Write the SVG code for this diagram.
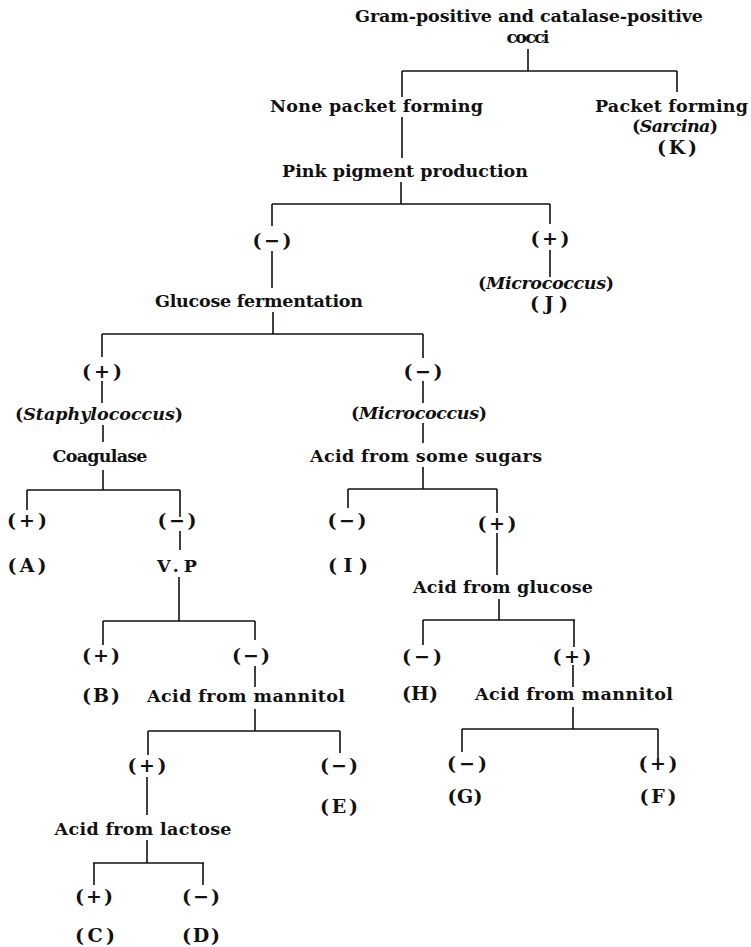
<svg xmlns="http://www.w3.org/2000/svg" width="751" height="947" viewBox="0 0 751 947">
<style>
text{font-family:"DejaVu Serif","Liberation Serif",serif;font-weight:bold;font-size:17.5px;fill:#111;text-anchor:middle}
text.s{font-size:19px}
.i{font-style:italic}
#connectors line{stroke:#111;stroke-width:1.6;fill:none}
</style>
<rect width="751" height="947" fill="#fff"/>
<g id="connectors">
<line x1="528" y1="49" x2="528" y2="71"/>
<line x1="402" y1="71" x2="677" y2="71"/>
<line x1="402" y1="71" x2="402" y2="97"/>
<line x1="677" y1="71" x2="677" y2="92"/>
<line x1="402" y1="117" x2="402" y2="158"/>
<line x1="401" y1="182" x2="401" y2="204"/>
<line x1="272" y1="204" x2="550" y2="204"/>
<line x1="272" y1="204" x2="272" y2="226"/>
<line x1="550" y1="204" x2="550" y2="224"/>
<line x1="272" y1="251" x2="272" y2="288"/>
<line x1="550" y1="250" x2="550" y2="277"/>
<line x1="273" y1="312" x2="273" y2="334"/>
<line x1="102" y1="334" x2="423" y2="334"/>
<line x1="102" y1="334" x2="102" y2="357"/>
<line x1="423" y1="334" x2="423" y2="358"/>
<line x1="102" y1="381" x2="102" y2="403"/>
<line x1="423" y1="381" x2="423" y2="403"/>
<line x1="103" y1="425" x2="103" y2="442"/>
<line x1="423" y1="423" x2="423" y2="443"/>
<line x1="103" y1="470" x2="103" y2="490"/>
<line x1="423" y1="467" x2="423" y2="489"/>
<line x1="27" y1="490" x2="180" y2="490"/>
<line x1="348" y1="489" x2="497" y2="489"/>
<line x1="27" y1="490" x2="27" y2="510"/>
<line x1="180" y1="490" x2="180" y2="517"/>
<line x1="348" y1="489" x2="348" y2="508"/>
<line x1="497" y1="489" x2="497" y2="513"/>
<line x1="180" y1="531" x2="180" y2="550"/>
<line x1="497" y1="533" x2="497" y2="575"/>
<line x1="179" y1="577" x2="179" y2="621"/>
<line x1="103" y1="621" x2="255" y2="621"/>
<line x1="103" y1="621" x2="103" y2="645"/>
<line x1="255" y1="621" x2="255" y2="640"/>
<line x1="255" y1="666" x2="255" y2="687"/>
<line x1="255" y1="709" x2="255" y2="731"/>
<line x1="148" y1="731" x2="340" y2="731"/>
<line x1="148" y1="731" x2="148" y2="755"/>
<line x1="340" y1="731" x2="340" y2="753"/>
<line x1="147" y1="777" x2="147" y2="815"/>
<line x1="147" y1="840" x2="147" y2="863"/>
<line x1="93" y1="863" x2="204" y2="863"/>
<line x1="94" y1="863" x2="94" y2="885"/>
<line x1="203" y1="863" x2="203" y2="885"/>
<line x1="499" y1="599" x2="499" y2="620"/>
<line x1="423" y1="620" x2="575" y2="620"/>
<line x1="423" y1="620" x2="423" y2="645"/>
<line x1="574" y1="620" x2="574" y2="647"/>
<line x1="573" y1="665" x2="573" y2="687"/>
<line x1="573" y1="707" x2="573" y2="729"/>
<line x1="462" y1="729" x2="658" y2="729"/>
<line x1="462" y1="729" x2="462" y2="752"/>
<line x1="658" y1="729" x2="658" y2="758"/>
</g>
<g id="n-root"><text x="529" y="22" textLength="348">Gram-positive and catalase-positive</text><text x="528" y="43" textLength="43">cocci</text></g>
<g id="n-none-packet"><text x="376.5" y="112" textLength="213">None packet forming</text></g>
<g id="n-packet"><text x="671.5" y="112" textLength="153">Packet forming</text><text x="675" y="132" textLength="86">(<tspan class="i">Sarcina</tspan>)</text><text class="s" x="677" y="154" textLength="40">(K)</text></g>
<g id="n-pink"><text x="405" y="177" textLength="246">Pink pigment production</text></g>
<g id="n-pink-neg"><text class="s" x="272" y="247" textLength="39">(−)</text></g>
<g id="n-pink-pos"><text class="s" x="550" y="245" textLength="39">(+)</text><text x="546" y="289" textLength="136">(<tspan class="i">Micrococcus</tspan>)</text><text class="s" x="549" y="310" textLength="38">(J)</text></g>
<g id="n-glucose-ferm"><text x="259" y="307" textLength="208">Glucose fermentation</text></g>
<g id="n-gf-pos"><text class="s" x="102" y="378" textLength="40">(+)</text><text x="99" y="420" textLength="168">(<tspan class="i">Staphylococcus</tspan>)</text></g>
<g id="n-gf-neg"><text class="s" x="423" y="378" textLength="39">(−)</text><text x="419" y="419" textLength="136">(<tspan class="i">Micrococcus</tspan>)</text></g>
<g id="n-coagulase"><text x="100" y="462" textLength="95">Coagulase</text></g>
<g id="n-some-sugars"><text x="426" y="462" textLength="232">Acid from some sugars</text></g>
<g id="n-coag-pos"><text class="s" x="27" y="527" textLength="40">(+)</text><text class="s" x="27" y="572" textLength="39">(A)</text></g>
<g id="n-coag-neg"><text class="s" x="177" y="527" textLength="39">(−)</text></g>
<g id="n-vp"><text x="177" y="572" textLength="40">V.P</text></g>
<g id="n-sugars-neg"><text class="s" x="347" y="527" textLength="39">(−)</text><text class="s" x="348" y="572" textLength="40">(I)</text></g>
<g id="n-sugars-pos"><text class="s" x="497" y="530" textLength="39">(+)</text></g>
<g id="n-acid-glucose"><text x="503" y="593" textLength="180">Acid from glucose</text></g>
<g id="n-vp-pos"><text class="s" x="101" y="662" textLength="38">(+)</text><text class="s" x="101" y="702" textLength="38">(B)</text></g>
<g id="n-vp-neg"><text class="s" x="251" y="662" textLength="38">(−)</text></g>
<g id="n-mannitol-1"><text x="246" y="702" textLength="198">Acid from mannitol</text></g>
<g id="n-glu-neg"><text class="s" x="422" y="663" textLength="40">(−)</text><text class="s" x="420" y="700" textLength="36">(H)</text></g>
<g id="n-glu-pos"><text class="s" x="572" y="663" textLength="39">(+)</text></g>
<g id="n-mannitol-2"><text x="574" y="700" textLength="198">Acid from mannitol</text></g>
<g id="n-man1-pos"><text class="s" x="147" y="772" textLength="39">(+)</text></g>
<g id="n-man1-neg"><text class="s" x="339" y="772" textLength="38">(−)</text><text class="s" x="339" y="813" textLength="38">(E)</text></g>
<g id="n-man2-neg"><text class="s" x="467" y="770" textLength="40">(−)</text><text class="s" x="465" y="803" textLength="35">(G)</text></g>
<g id="n-man2-pos"><text class="s" x="658" y="770" textLength="39">(+)</text><text class="s" x="658" y="803" textLength="37">(F)</text></g>
<g id="n-lactose"><text x="143" y="835" textLength="177">Acid from lactose</text></g>
<g id="n-lac-pos"><text class="s" x="94" y="903" textLength="38">(+)</text><text class="s" x="95" y="942" textLength="40">(C)</text></g>
<g id="n-lac-neg"><text class="s" x="201" y="903" textLength="38">(−)</text><text class="s" x="201" y="942" textLength="38">(D)</text></g>
</svg>
